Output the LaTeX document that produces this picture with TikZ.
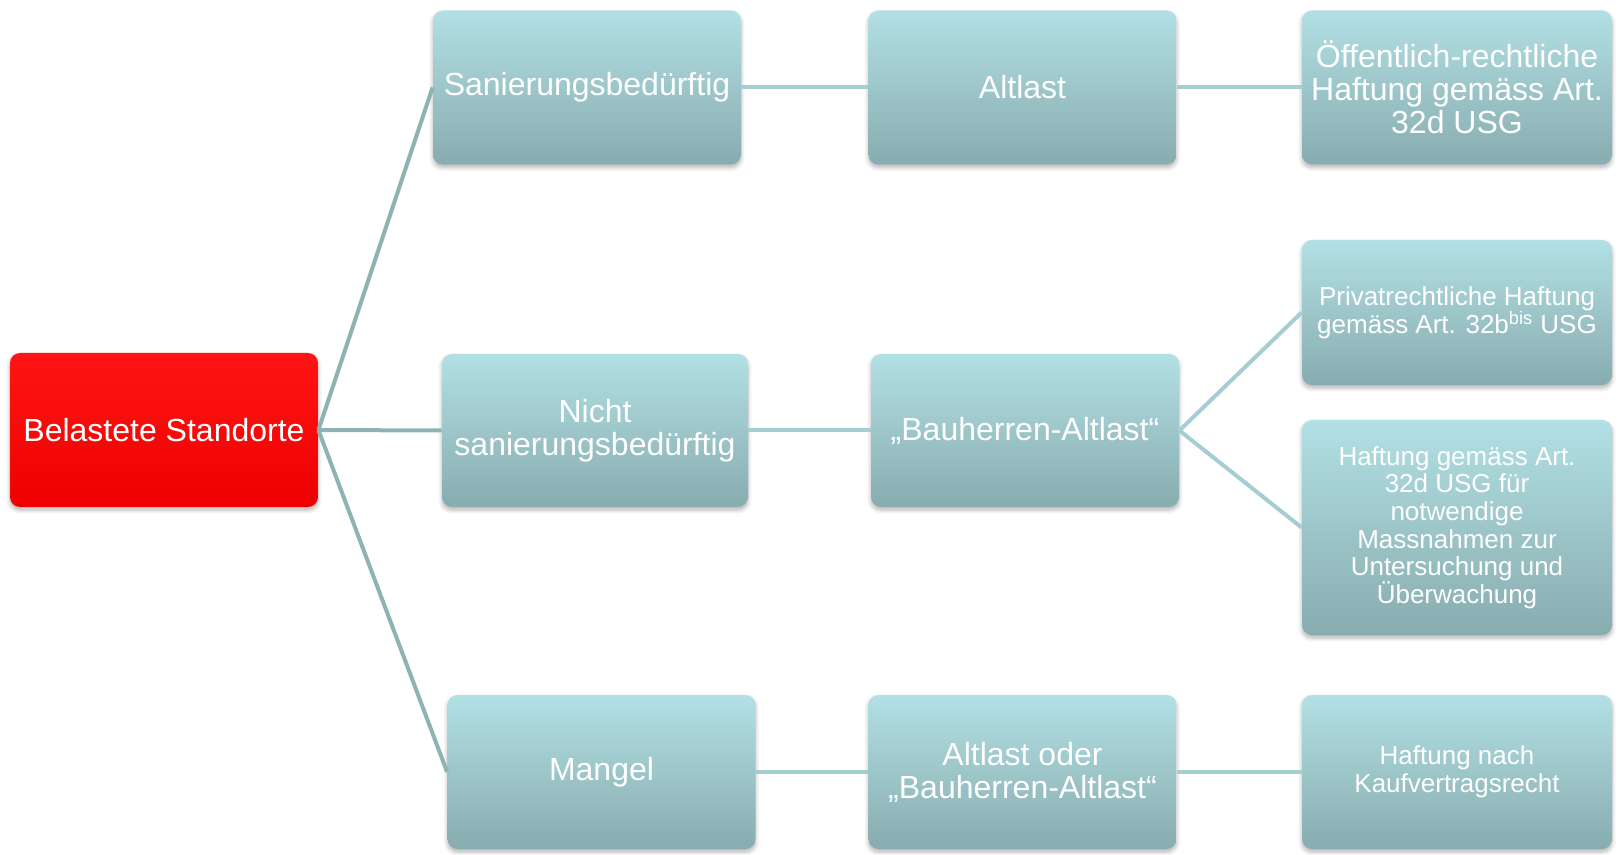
\documentclass[tikz,border=0pt]{standalone}
\usepackage{fontspec}
\setmainfont{Liberation Sans}
\usetikzlibrary{shadows.blur}
\usetikzlibrary{shapes}

\definecolor{boxtop}{RGB}{178,224,228}
\definecolor{boxbottom}{RGB}{136,172,175}
\definecolor{mainline}{RGB}{143,178,181}
\definecolor{subline}{RGB}{166,206,210}

\tikzset{
  stdbox/.style={rectangle, rounded corners=5pt, top color=boxtop, bottom color=boxbottom,
    draw=none, text=white, align=center, minimum width=154pt, minimum height=77pt,
    inner sep=2pt, font=\fontsize{16}{16.5}\selectfont,
    blur shadow={shadow xshift=0pt, shadow yshift=-1.5pt, shadow blur steps=6, shadow opacity=30}},
  rootbox/.style={stdbox, top color={rgb,255:red,255;green,20;blue,20}, bottom color={rgb,255:red,238;green,0;blue,0}},
  smalltext/.style={font=\fontsize{13}{13.8}\selectfont},
  mainlink/.style={draw=mainline, line width=2pt},
  sublink/.style={draw=subline, line width=2pt}
}

\begin{document}
\begin{tikzpicture}[x=0.5pt,y=0.5pt,yscale=-1,xscale=1]
\useasboundingbox (0,0) rectangle (1618,855);

%Shape: Root
\node [rootbox] (root) at (164,430) {Belastete Standorte};

%Shape: Column 2
\node [stdbox] (sanierung) at (587,87.5) {Sanierungsbed\"urftig};
\node [stdbox, minimum width=153pt, minimum height=76.5pt] (nichtsan) at (595,430.5) {Nicht\\sanierungsbed\"urftig};
\node [stdbox] (mangel) at (601.5,772) {Mangel};

%Shape: Column 3
\node [stdbox] (altlast) at (1022.5,87.5) {Altlast};
\node [stdbox, minimum height=76.5pt] (bauherren) at (1025,430.5) {„Bauherren-Altlast“};
\node [stdbox] (altlastoder) at (1022.5,772) {Altlast oder\\„Bauherren-Altlast“};

%Shape: Column 4
\node [stdbox, minimum width=155pt] (oeffentlich) at (1457,87.5) {\"Offentlich-rechtliche\\Haftung gem\"ass Art.\\32d USG};
\node [stdbox, smalltext, minimum width=155pt, minimum height=72.5pt] (privat) at (1457,312.5) {Privatrechtliche Haftung\\gem\"ass Art. 32b\textsuperscript{bis} USG};
\node [stdbox, smalltext, minimum width=155pt, minimum height=107.5pt] (massnahmen) at (1457,527.5) {Haftung gem\"ass Art.\\32d USG f\"ur\\notwendige\\Massnahmen zur\\Untersuchung und\\\"Uberwachung};
\node [stdbox, smalltext, minimum width=155pt] (kaufvertrag) at (1457,772) {Haftung nach\\Kaufvertragsrecht};

%Straight Lines: root to column 2
\draw [mainlink] (root.east) -- (sanierung.west);
\draw [mainlink] (root.east) -- (nichtsan.west);
\draw [mainlink] (root.east) -- (mangel.west);

%Straight Lines: column 2 to column 3
\draw [sublink] (sanierung.east) -- (altlast.west);
\draw [sublink] (nichtsan.east) -- (bauherren.west);
\draw [sublink] (mangel.east) -- (altlastoder.west);

%Straight Lines: column 3 to column 4
\draw [sublink] (altlast.east) -- (oeffentlich.west);
\draw [sublink] (bauherren.east) -- (privat.west);
\draw [sublink] (bauherren.east) -- (massnahmen.west);
\draw [sublink] (altlastoder.east) -- (kaufvertrag.west);

\end{tikzpicture}
\end{document}
